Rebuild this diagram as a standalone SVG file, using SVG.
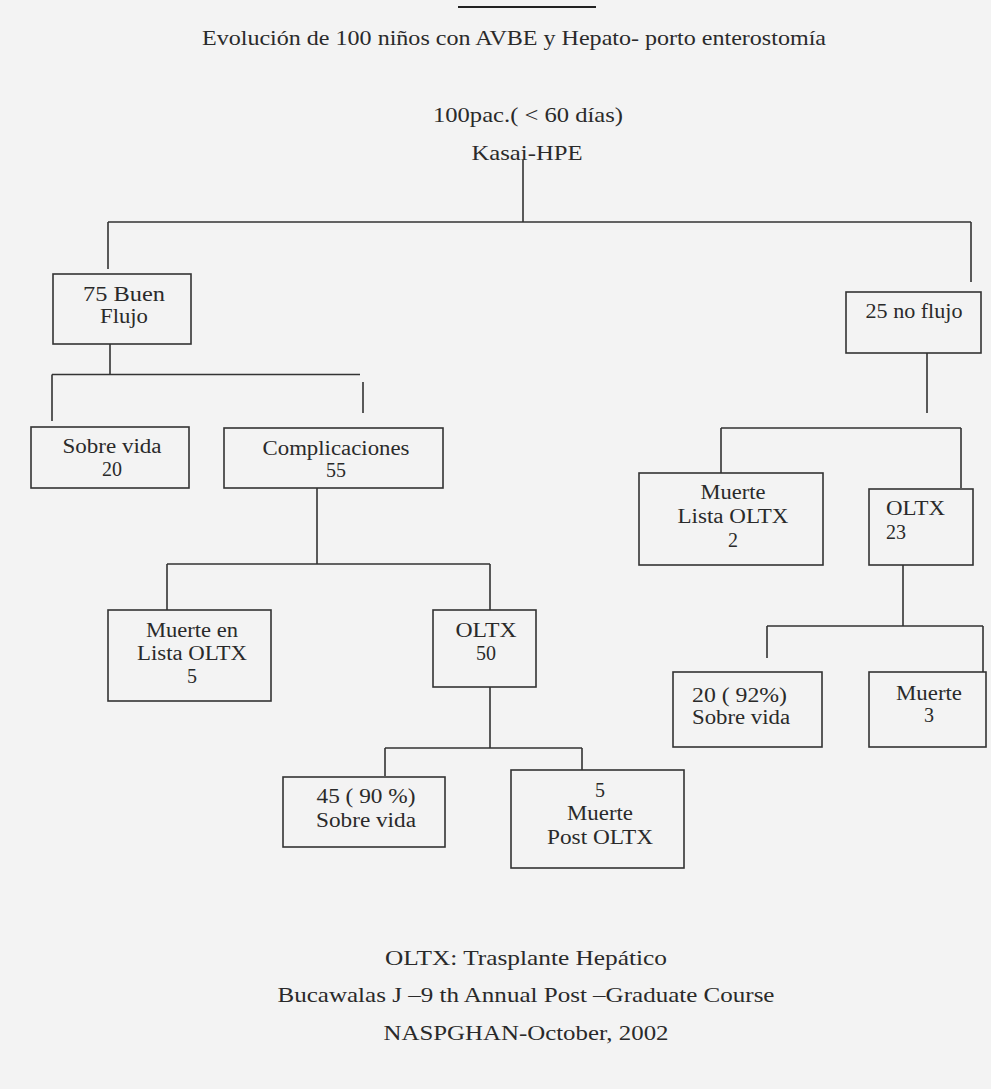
<svg xmlns="http://www.w3.org/2000/svg" width="991" height="1089" viewBox="0 0 991 1089">
<style>
text{font-family:"Liberation Serif","Times New Roman",serif;font-size:20px;fill:#2a2a2a;text-anchor:middle}
.t{font-size:21px}
.l{text-anchor:start}
.box{fill:none;stroke:#333;stroke-width:1.6}
.c{fill:none;stroke:#333;stroke-width:1.6}
</style>
<rect width="991" height="1089" fill="#f3f3f3"/>
<line x1="458" y1="7" x2="596" y2="7" stroke="#222" stroke-width="2"/>
<text class="t" x="514" y="45" textLength="624" lengthAdjust="spacingAndGlyphs">Evolución de 100 niños con AVBE y Hepato- porto enterostomía</text>
<g id="root">
<text class="t" x="528" y="122" textLength="190" lengthAdjust="spacingAndGlyphs">100pac.( &lt; 60 días)</text>
<text class="t" x="527" y="160" textLength="111" lengthAdjust="spacingAndGlyphs">Kasai-HPE</text>
</g>
<g id="connectors">
<path class="c" d="M523 160V222M108 222H971M108 222V269M971 222V282"/>
<path class="c" d="M110 344V374.5M52 374.5H360M52 374.5V421M363 382V413"/>
<path class="c" d="M317 488V564M167 564H490M167 564V610M490 564V610"/>
<path class="c" d="M490 687V748M385 748H582M385 748V776M582 748V770"/>
<path class="c" d="M927 353V413M721 428H961M721 428V473M961 428V488"/>
<path class="c" d="M903 565V626M767 626H983M767 626V658M983 626V672"/>
</g>
<g id="n-buen"><rect class="box" x="53" y="274" width="138" height="70"/><text x="124" y="301" textLength="82" lengthAdjust="spacingAndGlyphs">75 Buen</text><text x="124" y="323" textLength="48" lengthAdjust="spacingAndGlyphs">Flujo</text></g>
<g id="n-noflujo"><rect class="box" x="846" y="292" width="135" height="61"/><text x="914" y="318" textLength="97" lengthAdjust="spacingAndGlyphs">25 no flujo</text></g>
<g id="n-sobre20"><rect class="box" x="31" y="427" width="158" height="61"/><text x="112" y="453" textLength="99" lengthAdjust="spacingAndGlyphs">Sobre vida</text><text x="112" y="476">20</text></g>
<g id="n-compl"><rect class="box" x="224" y="428" width="219" height="60"/><text x="336" y="455" textLength="147" lengthAdjust="spacingAndGlyphs">Complicaciones</text><text x="336" y="477">55</text></g>
<g id="n-muerte5"><rect class="box" x="108" y="610" width="163" height="91"/><text x="192" y="637" textLength="92" lengthAdjust="spacingAndGlyphs">Muerte en</text><text x="192" y="660" textLength="110" lengthAdjust="spacingAndGlyphs">Lista OLTX</text><text x="192" y="683">5</text></g>
<g id="n-oltx50"><rect class="box" x="433" y="610" width="103" height="77"/><text x="486" y="637" textLength="61" lengthAdjust="spacingAndGlyphs">OLTX</text><text x="486" y="660">50</text></g>
<g id="n-sobre45"><rect class="box" x="283" y="777" width="162" height="70"/><text x="366" y="803" textLength="99" lengthAdjust="spacingAndGlyphs">45 ( 90 %)</text><text x="366" y="827" textLength="100" lengthAdjust="spacingAndGlyphs">Sobre vida</text></g>
<g id="n-muertepost"><rect class="box" x="511" y="770" width="173" height="98"/><text x="600" y="797">5</text><text x="600" y="820" textLength="66" lengthAdjust="spacingAndGlyphs">Muerte</text><text x="600" y="844" textLength="106" lengthAdjust="spacingAndGlyphs">Post OLTX</text></g>
<g id="n-muerte2"><rect class="box" x="639" y="473" width="184" height="92"/><text x="733" y="499" textLength="65" lengthAdjust="spacingAndGlyphs">Muerte</text><text x="733" y="523" textLength="111" lengthAdjust="spacingAndGlyphs">Lista OLTX</text><text x="733" y="547">2</text></g>
<g id="n-oltx23"><rect class="box" x="869" y="489" width="104" height="76"/><text class="l" x="886" y="515" textLength="59" lengthAdjust="spacingAndGlyphs">OLTX</text><text class="l" x="886" y="539">23</text></g>
<g id="n-sobre92"><rect class="box" x="673" y="672" width="149" height="75"/><text class="l" x="692" y="702" textLength="95" lengthAdjust="spacingAndGlyphs">20 ( 92%)</text><text class="l" x="692" y="724" textLength="98" lengthAdjust="spacingAndGlyphs">Sobre vida</text></g>
<g id="n-muerte3"><rect class="box" x="869" y="672" width="117" height="75"/><text x="929" y="700" textLength="66" lengthAdjust="spacingAndGlyphs">Muerte</text><text x="929" y="722">3</text></g>
<g id="footer">
<text class="t" x="526" y="965" textLength="282" lengthAdjust="spacingAndGlyphs">OLTX: Trasplante Hepático</text>
<text class="t" x="526" y="1002" textLength="497" lengthAdjust="spacingAndGlyphs">Bucawalas J –9 th Annual Post –Graduate Course</text>
<text class="t" x="526" y="1040" textLength="285" lengthAdjust="spacingAndGlyphs">NASPGHAN-October, 2002</text>
</g>
</svg>
